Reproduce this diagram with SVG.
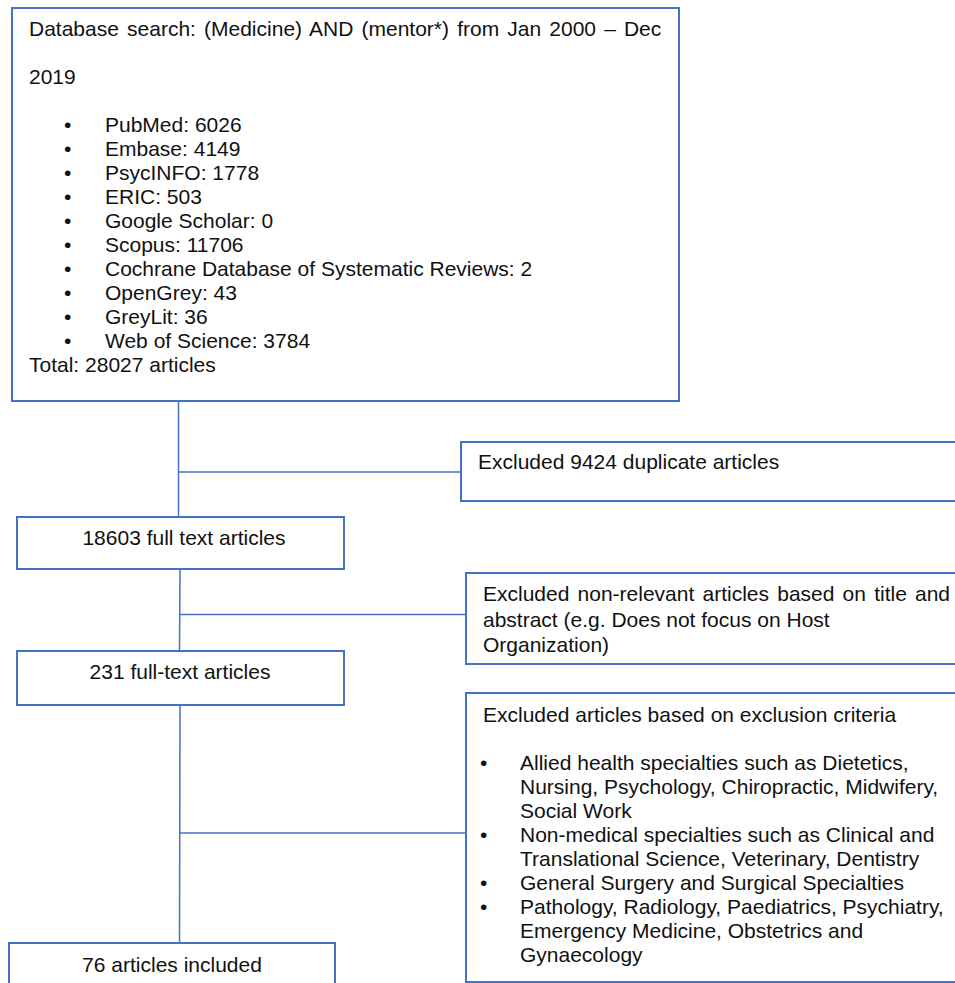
<svg xmlns="http://www.w3.org/2000/svg" width="955" height="983" viewBox="0 0 955 983">
<style>
.box{fill:#fff;stroke:#4472C4;stroke-width:2}
.ln{fill:none;stroke:#4472C4;stroke-width:1.5}
text{font-family:"Liberation Sans",Arial,sans-serif;font-size:21px;fill:#111}
.c{text-anchor:middle}
</style>
<rect width="955" height="983" fill="#fff"/>
<g id="connectors">
<line class="ln" x1="178.5" y1="401" x2="178.5" y2="517"/>
<line class="ln" x1="178.5" y1="472" x2="461" y2="472"/>
<line class="ln" x1="180" y1="569" x2="179.5" y2="651"/>
<line class="ln" x1="179.5" y1="614.5" x2="466" y2="614.5"/>
<line class="ln" x1="180" y1="705" x2="179.5" y2="943"/>
<line class="ln" x1="179.5" y1="833" x2="466" y2="833"/>
</g>
<g id="search">
<rect class="box" x="12" y="8" width="667" height="393"/>
<text x="29" y="36" word-spacing="2.3">Database search: (Medicine) AND (mentor*) from Jan 2000 – Dec</text>
<text x="29" y="84">2019</text>
<g>
<text x="64" y="132">•</text><text x="105" y="132">PubMed: 6026</text>
<text x="64" y="156">•</text><text x="105" y="156">Embase: 4149</text>
<text x="64" y="180">•</text><text x="105" y="180">PsycINFO: 1778</text>
<text x="64" y="204">•</text><text x="105" y="204">ERIC: 503</text>
<text x="64" y="228">•</text><text x="105" y="228">Google Scholar: 0</text>
<text x="64" y="252">•</text><text x="105" y="252">Scopus: 11706</text>
<text x="64" y="276">•</text><text x="105" y="276">Cochrane Database of Systematic Reviews: 2</text>
<text x="64" y="300">•</text><text x="105" y="300">OpenGrey: 43</text>
<text x="64" y="324">•</text><text x="105" y="324">GreyLit: 36</text>
<text x="64" y="348">•</text><text x="105" y="348">Web of Science: 3784</text>
</g>
<text x="29" y="372">Total: 28027 articles</text>
</g>
<g id="duplicates">
<rect class="box" x="461" y="442" width="510" height="59"/>
<text x="478" y="469">Excluded 9424 duplicate articles</text>
</g>
<g id="fulltext1">
<rect class="box" x="17" y="517" width="327" height="52"/>
<text class="c" x="184" y="545">18603 full text articles</text>
</g>
<g id="nonrelevant">
<rect class="box" x="466" y="573" width="505" height="91"/>
<text x="483" y="601" word-spacing="2.35">Excluded non-relevant articles based on title and</text>
<text x="483" y="627">abstract (e.g. Does not focus on Host</text>
<text x="483" y="652">Organization)</text>
</g>
<g id="fulltext2">
<rect class="box" x="17" y="651" width="327" height="54"/>
<text class="c" x="180" y="679">231 full-text articles</text>
</g>
<g id="criteria">
<rect class="box" x="466" y="693" width="505" height="289"/>
<text x="483" y="722">Excluded articles based on exclusion criteria</text>
<text x="480" y="770">•</text><text x="520" y="770">Allied health specialties such as Dietetics,</text>
<text x="520" y="794">Nursing, Psychology, Chiropractic, Midwifery,</text>
<text x="520" y="818">Social Work</text>
<text x="480" y="842">•</text><text x="520" y="842">Non-medical specialties such as Clinical and</text>
<text x="520" y="866">Translational Science, Veterinary, Dentistry</text>
<text x="480" y="890">•</text><text x="520" y="890">General Surgery and Surgical Specialties</text>
<text x="480" y="914">•</text><text x="520" y="914">Pathology, Radiology, Paediatrics, Psychiatry,</text>
<text x="520" y="938">Emergency Medicine, Obstetrics and</text>
<text x="520" y="962">Gynaecology</text>
</g>
<g id="included">
<rect class="box" x="9" y="943" width="326" height="60"/>
<text class="c" x="172" y="972">76 articles included</text>
</g>
</svg>
